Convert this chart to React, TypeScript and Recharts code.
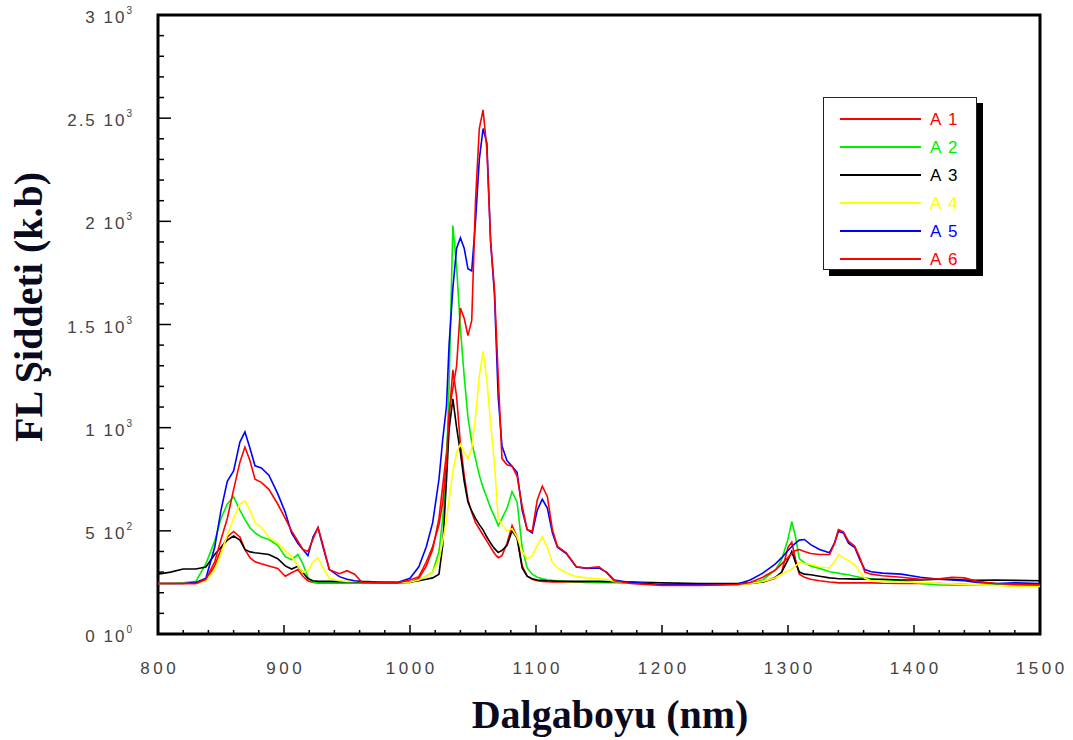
import React from 'react';
import { LineChart, Line, XAxis, YAxis, Legend, ReferenceArea } from 'recharts';

const wavelengths = [
  800, 810, 820, 830, 838, 845, 850, 855, 860, 865,
  869, 873, 877, 882, 888, 895, 901, 906, 911, 915,
  919, 923, 927, 931, 936, 944, 950, 956, 962, 975,
  990, 1000, 1007, 1013, 1018, 1023, 1026, 1029, 1031, 1034,
  1037, 1040, 1043, 1046, 1049, 1052, 1055, 1058, 1061, 1064,
  1067, 1070, 1073, 1077, 1081, 1085, 1089, 1093, 1097, 1101,
  1105, 1109, 1113, 1117, 1124, 1132, 1140, 1150, 1156, 1162,
  1175, 1200, 1230, 1260, 1270, 1280, 1290, 1295, 1300, 1303,
  1306, 1309, 1313, 1318, 1325, 1333, 1337, 1340, 1344, 1348,
  1353, 1357, 1361, 1366, 1375, 1390, 1405, 1420, 1430, 1440,
  1450, 1465, 1480, 1500,
];

const A1 = [
  245, 245, 245, 245, 260, 330, 410, 470, 497, 470,
  409, 370, 350, 340, 330, 318, 280, 297, 312, 280,
  258, 250, 248, 248, 248, 248, 248, 248, 248, 248,
  248, 250, 270, 330, 410, 560, 720, 880, 1050, 1280,
  1150, 920, 770, 650, 590, 540, 510, 480, 450, 420,
  390, 370, 380, 440, 525, 470, 330, 280, 265, 258,
  255, 253, 252, 252, 252, 252, 250, 250, 250, 250,
  248, 240, 238, 240, 245, 252, 270, 300, 420, 445,
  360, 290, 275, 265, 258, 252, 250, 248, 248, 248,
  248, 248, 248, 248, 246, 245, 245, 245, 242, 240,
  238, 236, 235, 235,
];

const A2 = [
  245, 245, 248, 255, 340, 450, 560, 630, 665, 600,
  555, 515, 490, 470, 458, 430, 375, 360, 385, 340,
  275, 252, 250, 250, 250, 250, 250, 250, 250, 250,
  250, 252, 260, 280, 300, 400, 560, 830, 1200, 1980,
  1780, 1480, 1250, 1050, 930, 850, 770, 710, 660, 610,
  570, 525, 560, 610, 690, 640, 420, 320, 290, 275,
  268, 263, 260, 258, 255, 253, 252, 250, 250, 250,
  250, 240, 238, 240, 245, 262, 310, 360, 460, 545,
  470, 365, 345, 330, 318, 302, 298, 295, 290, 287,
  280, 275, 272, 268, 262, 258, 245, 238, 236, 236,
  238, 240, 242, 242,
];

const A3 = [
  290, 300, 315, 315, 325, 385, 420, 455, 475, 455,
  410, 398, 394, 390, 385, 365, 330, 315, 328, 298,
  268, 258, 255, 255, 255, 254, 253, 252, 252, 251,
  250, 252, 258, 265, 272, 290, 430, 750, 990, 1140,
  1000, 880, 740, 640, 595, 560, 530, 505, 470, 440,
  415, 395, 405, 430, 500, 465, 320, 280, 268, 262,
  260, 258, 257, 256, 256, 255, 255, 255, 254, 253,
  252, 248, 245, 245, 248, 252, 275, 300, 360, 400,
  345, 300, 290, 287, 280, 272, 270, 268, 268, 267,
  266, 266, 265, 265, 265, 262, 262, 265, 265, 262,
  260, 262, 260, 258,
];

const A4 = [
  245, 245, 245, 248, 258, 310, 390, 480, 560, 630,
  645, 600, 540, 516, 470, 440, 405, 375, 330, 300,
  305, 350, 370, 320, 270, 258, 255, 255, 255, 252,
  250, 252, 262, 280, 300, 360, 450, 555, 650, 784,
  880, 920, 880, 850, 900, 1050, 1250, 1370, 1230, 1020,
  830, 560, 530, 500, 510, 470, 400, 365, 380, 430,
  470, 420, 346, 320, 297, 278, 272, 268, 265, 255,
  248, 240, 238, 240, 245, 255, 273, 290, 305, 315,
  330, 346, 342, 338, 325, 320, 350, 385, 370, 355,
  335, 300, 270, 258, 255, 252, 250, 245, 243, 240,
  238, 235, 232, 230,
];

const A5 = [
  245, 245, 245, 250, 270, 420, 600, 740, 790, 930,
  979, 900, 815, 805, 770, 680, 590, 490, 440, 410,
  380, 470, 515, 420, 312, 278, 265, 258, 255, 252,
  250, 270, 326, 424, 540, 750, 945, 1106, 1400, 1675,
  1870, 1920, 1870, 1770, 1760, 2000, 2300, 2450, 2380, 1900,
  1650, 1150, 911, 840, 813, 784, 600, 506, 490, 600,
  653, 610, 490, 420, 390, 325, 318, 320, 300, 262,
  250, 240, 238, 242, 262, 295, 340, 370, 405, 424,
  440, 455, 458, 433, 410, 394, 443, 497, 490, 440,
  419, 360, 312, 302, 295, 290, 275, 265, 262, 258,
  250, 245, 248, 245,
];

const A6 = [
  245, 245, 245, 245, 265, 350, 458, 560, 700, 833,
  906, 840, 750, 735, 701, 630, 560, 500, 450, 410,
  400, 460, 516, 430, 312, 292, 307, 290, 250, 248,
  248, 262, 278, 350, 424, 530, 640, 833, 1076, 1190,
  1300, 1580, 1530, 1446, 1520, 2100, 2450, 2540, 2350, 1900,
  1675, 1250, 850, 820, 813, 765, 620, 506, 497, 650,
  716, 667, 506, 424, 394, 326, 320, 326, 297, 258,
  245, 235, 235, 240, 250, 275, 310, 340, 370, 390,
  405, 409, 400, 390, 385, 385, 440, 506, 495, 450,
  425, 370, 300, 290, 282, 275, 265, 268, 275, 272,
  255, 245, 240, 238,
];

const seriesKeys = ['A1', 'A2', 'A3', 'A4', 'A5', 'A6'];
const seriesNames = ['A 1', 'A 2', 'A 3', 'A 4', 'A 5', 'A 6'];
const seriesColors = ['#ff0000', '#00ee00', '#000000', '#ffff00', '#0000ff', '#ff0000'];
const seriesValues = [A1, A2, A3, A4, A5, A6];

const xTicks = [
  800, 820, 840, 860, 880, 900, 920, 940, 960, 980,
  1000, 1020, 1040, 1060, 1080, 1100, 1120, 1140, 1160, 1180,
  1200, 1220, 1240, 1260, 1280, 1300, 1320, 1340, 1360, 1380,
  1400, 1420, 1440, 1460, 1480, 1500,
];
const xMajorTicks = [800, 900, 1000, 1100, 1200, 1300, 1400, 1500];

const yTicks = [
  0, 100, 200, 300, 400, 500, 600, 700, 800, 900,
  1000, 1100, 1200, 1300, 1400, 1500, 1600, 1700, 1800, 1900,
  2000, 2100, 2200, 2300, 2400, 2500, 2600, 2700, 2800, 2900, 3000,
];
const yMajorTicks = [0, 500, 1000, 1500, 2000, 2500, 3000];
const yMantissas = ['0', '5', '1', '1.5', '2', '2.5', '3'];
const yExponents = ['0', '2', '3', '3', '3', '3', '3'];

const xTitle = 'Dalgaboyu (nm)';
const yTitle = 'FL Şiddeti (k.b)';

const data = wavelengths.map((x, i) => {
  const row: Record<string, number> = { x };
  seriesKeys.forEach((k, j) => {
    row[k] = seriesValues[j][i];
  });
  return row;
});

const TICK_FONT = '"Liberation Sans", Arial, sans-serif';
const TITLE_FONT = '"Liberation Serif", "Times New Roman", serif';

const YTick = (props: any) => {
  const { x, y, payload } = props;
  const idx = yMajorTicks.indexOf(payload.value);
  const major = idx >= 0;
  return (
    <g>
      <line x1={x} x2={x + (major ? 13 : 6)} y1={y} y2={y} stroke="#000" strokeWidth={1.5} />
      {major && (
        <text
          x={x - 24}
          y={y + 8}
          textAnchor="end"
          fontSize={17}
          fill="#444"
          fontFamily={TICK_FONT}
          letterSpacing={2}
        >
          {yMantissas[idx] + ' 10'}
          <tspan dy={-9} fontSize={10}>{yExponents[idx]}</tspan>
        </text>
      )}
    </g>
  );
};

const XTick = (props: any) => {
  const { x, y, payload } = props;
  const major = xMajorTicks.indexOf(payload.value) >= 0;
  return (
    <g>
      <line x1={x} x2={x} y1={y} y2={y - (major ? 9 : 4)} stroke="#000" strokeWidth={1.5} />
      {major && (
        <text
          x={x + 1.75}
          y={y + 40}
          textAnchor="middle"
          fontSize={17}
          fill="#444"
          fontFamily={TICK_FONT}
          letterSpacing={3.5}
        >
          {String(payload.value)}
        </text>
      )}
    </g>
  );
};

const XTitle = () => (
  <text x={610} y={728} textAnchor="middle" fontSize={40} fontWeight="bold" fill="#0a0a1e" fontFamily={TITLE_FONT}>
    {xTitle}
  </text>
);

const YTitle = () => (
  <text
    transform="translate(42,307) rotate(-90)"
    textAnchor="middle"
    fontSize={40}
    fontWeight="bold"
    fill="#0a0a1e"
    fontFamily={TITLE_FONT}
  >
    {yTitle}
  </text>
);

const LegendBox = (props: any) => {
  const payload = props.payload || [];
  return (
    <div
      style={{
        width: 154,
        height: 173,
        boxSizing: 'border-box',
        border: '1.5px solid #222',
        background: '#fff',
        boxShadow: '6px 6px 0 #000',
      }}
    >
      <svg width={151} height={170} style={{ display: 'block' }}>
        {payload.map((entry: any, i: number) => (
          <g key={i}>
            <line x1={16} x2={97} y1={21 + i * 28} y2={21 + i * 28} stroke={entry.color} strokeWidth={2} />
            <text
              x={106}
              y={27 + i * 28}
              fontSize={17}
              fill={entry.color}
              fontFamily={TICK_FONT}
              letterSpacing={1.5}
            >
              {entry.value}
            </text>
          </g>
        ))}
      </svg>
    </div>
  );
};

export default function App() {
  return (
    <div style={{ position: 'absolute', left: 0, top: 0, background: '#fff' }}>
      <LineChart
        width={1073}
        height={740}
        data={data}
        margin={{ top: 15, right: 33, bottom: 0, left: 0 }}
        style={{ background: '#fff' }}
      >
        <XAxis
          dataKey="x"
          type="number"
          domain={[800, 1500]}
          ticks={xTicks}
          interval={0}
          tickSize={0}
          tickMargin={0}
          axisLine={false}
          tickLine={false}
          tick={<XTick />}
          height={106}
          allowDataOverflow
          label={<XTitle />}
        />
        <YAxis
          type="number"
          domain={[0, 3000]}
          ticks={yTicks}
          interval={0}
          tickSize={0}
          tickMargin={0}
          axisLine={false}
          tickLine={false}
          tick={<YTick />}
          width={158}
          allowDataOverflow
          label={<YTitle />}
        />
        <ReferenceArea
          x1={800}
          x2={1500}
          y1={0}
          y2={3000}
          fill="none"
          fillOpacity={0}
          stroke="#000"
          strokeWidth={3}
          ifOverflow="visible"
        />
        {seriesKeys.map((k, i) => (
          <Line
            key={k}
            dataKey={k}
            name={seriesNames[i]}
            stroke={seriesColors[i]}
            strokeWidth={1.6}
            dot={false}
            activeDot={false}
            type="linear"
            isAnimationActive={false}
          />
        ))}
        <Legend
          layout="vertical"
          align="center"
          verticalAlign="middle"
          content={<LegendBox />}
          wrapperStyle={{ position: 'absolute', left: 823, top: 97, width: 160, height: 180 }}
        />
      </LineChart>
    </div>
  );
}
